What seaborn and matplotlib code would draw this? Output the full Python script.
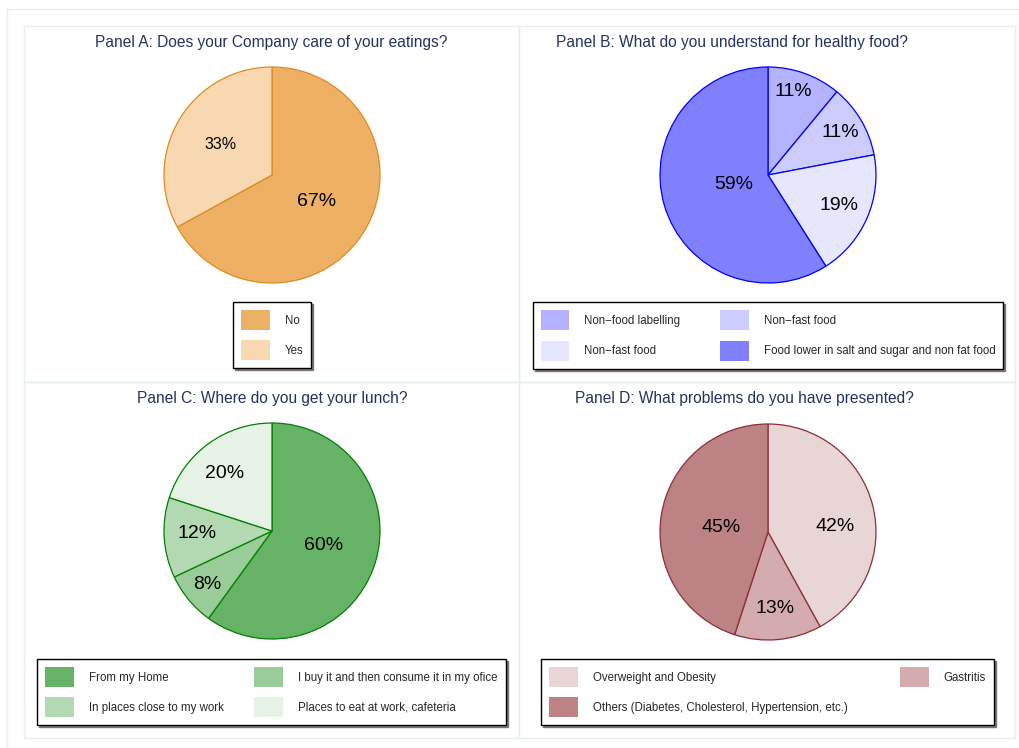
import numpy as np
import matplotlib
matplotlib.use("Agg")
import matplotlib.pyplot as plt
import seaborn as sns
from matplotlib.patches import Patch, Rectangle

sns.set_style("white")
plt.rcParams['font.family'] = ['Liberation Sans', 'DejaVu Sans']

# ---------------- data ----------------
a_title = "Panel A: Does your Company care of your eatings?"
a_labels = ["No", "Yes"]
a_values = [67, 33]
a_colors = ["#EDB064", "#F8D8B1"]

b_title = "Panel B: What do you understand for healthy food?"
b_labels = ["Non\u2212food labelling", "Non\u2212fast food", "Non\u2212fast food",
            "Food lower in salt and sugar and non fat food"]
b_values = [11, 11, 19, 59]
b_colors = ["#B3B3FF", "#CCCCFF", "#E6E6FF", "#8080FF"]

c_title = "Panel C: Where do you get your lunch?"
c_labels = ["From my Home", "I buy it and then consume it in my ofice",
            "In places close to my work", "Places to eat at work, cafeteria"]
c_values = [60, 8, 12, 20]
c_colors = ["#66B266", "#99CC99", "#B3D9B3", "#E6F2E6"]

d_title = "Panel D: What problems do you have presented?"
d_labels = ["Overweight and Obesity", "Gastritis",
            "Others (Diabetes, Cholesterol, Hypertension, etc.)"]
d_values = [42, 13, 45]
d_colors = ["#E8D5D6", "#D4ABAE", "#BC8284"]

W, H = 1019, 748
fig = plt.figure(figsize=(W / 100, H / 100), dpi=100, facecolor="white")

def fx(x):
    return x / W

def fy(y):
    return 1 - y / H

frame_col = "#E4EEF0"
# outer frame
fig.patches.append(Rectangle((fx(7), fy(760)), fx(1030 - 7), fy(9) - fy(760),
                             transform=fig.transFigure, fill=False,
                             edgecolor=frame_col, lw=1.0, zorder=0))
# panel frames
for (x0, y0, x1, y1) in [(24, 26, 519, 382), (519, 26, 1015, 382),
                         (24, 382, 519, 738), (519, 382, 1015, 738)]:
    fig.patches.append(Rectangle((fx(x0), fy(y1)), fx(x1 - x0), fy(y0) - fy(y1),
                                 transform=fig.transFigure, fill=False,
                                 edgecolor=frame_col, lw=1.0, zorder=0))

title_col = "#24335E"

panels = [
    dict(title=a_title, labels=a_labels, values=a_values, colors=a_colors,
         edge="#E08A1E", cx=272, cy=175, tx=271.5, ty=42,
         dist=[0.48, 0.55], shift=[0, 0], fs=[14, 11.5],
         lx=272, ly=335, ncol=1, order=[0, 1], colsp=2.0),
    dict(title=b_title, labels=b_labels, values=b_values, colors=b_colors,
         edge="#0000FF", cx=768, cy=175, tx=732.5, ty=42,
         dist=[0.81, 0.78, 0.72, 0.33], shift=[-3, 0, 0, 0], fs=[14, 14, 14, 14],
         lx=768, ly=335.5, ncol=2, order=[0, 2, 1, 3], colsp=3.4),
    dict(title=c_title, labels=c_labels, values=c_values, colors=c_colors,
         edge="#008000", cx=272, cy=531, tx=272, ty=398,
         dist=[0.50, 0.78, 0.69, 0.69], shift=[-2, 0, 2, -4], fs=[14, 14, 14, 14],
         lx=271.5, ly=692, ncol=2, order=[0, 2, 1, 3], colsp=2.65),
    dict(title=d_title, labels=d_labels, values=d_values, colors=d_colors,
         edge="#8B2E35", cx=768, cy=532, tx=744.5, ty=398,
         dist=[0.62, 0.71, 0.44], shift=[10, 0, -3], fs=[14, 14, 14],
         lx=767.5, ly=692, ncol=2, order=[0, 2, 1], colsp=4.5),
]

R = 108
for p in panels:
    ax = fig.add_axes([fx(p["cx"] - R), fy(p["cy"] + R), fx(2 * R), fy(p["cy"] - R) - fy(p["cy"] + R)])
    wedges, _ = ax.pie(p["values"], colors=p["colors"], startangle=90, counterclock=False,
                       wedgeprops=dict(edgecolor=p["edge"], linewidth=0.9))
    ax.set_xlim(-1, 1)
    ax.set_ylim(-1, 1)
    ax.set_aspect("equal")
    ax.axis("off")
    for w, v, d, s, f in zip(wedges, p["values"], p["dist"], p["shift"], p["fs"]):
        # shift is clockwise degrees
        mid = np.deg2rad((w.theta1 + w.theta2) / 2 - s)
        ax.text(d * np.cos(mid), d * np.sin(mid), f"{v}%", ha="center", va="center",
                fontsize=f, color="black")
    fig.text(fx(p["tx"]), fy(p["ty"]), p["title"], ha="center", va="center",
             fontsize=11.2, color=title_col)
    handles = [Patch(facecolor=p["colors"][i], edgecolor="none") for i in p["order"]]
    labs = [p["labels"][i] for i in p["order"]]
    leg = fig.legend(handles, labs, loc="center", bbox_to_anchor=(fx(p["lx"]), fy(p["ly"])),
                     bbox_transform=fig.transFigure, ncol=p["ncol"], fontsize=8.3,
                     frameon=True, fancybox=False, edgecolor="black", framealpha=1,
                     handlelength=2.5, handleheight=2.3, handletextpad=1.3,
                     labelspacing=0.87, borderpad=0.7, columnspacing=p["colsp"],
                     shadow={"color": "#777777", "alpha": 1.0, "ox": 1.5, "oy": -1.5})
    leg.get_frame().set_linewidth(1.0)

fig.savefig("out.png", dpi=100, facecolor="white")
